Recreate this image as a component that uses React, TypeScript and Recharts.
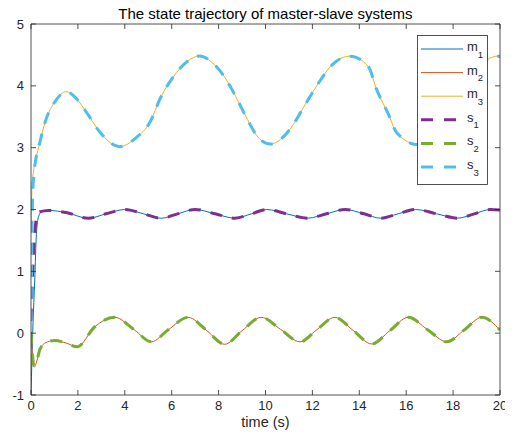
import React from "react";
import { LineChart, Line, XAxis, YAxis, Legend } from "recharts";

// ---- data ----
const xTicks = [0, 2, 4, 6, 8, 10, 12, 14, 16, 18, 20];
const yTicks = [-1, 0, 1, 2, 3, 4, 5];

const m1T = [0, 0.08, 0.16, 0.23, 0.32, 0.44, 0.75, 1.5, 2.44, 3.2, 4.0, 4.8, 5.55, 6.25, 7.0, 7.85, 8.7, 9.4, 10.05, 10.9, 11.8, 12.6, 13.4, 14.2, 14.9, 15.65, 16.4, 17.3, 18.2, 18.9, 19.6, 20];
const m1V = [-1, 0.1, 0.86, 1.6, 1.88, 1.96, 1.985, 1.95, 1.858, 1.93, 2.0, 1.93, 1.858, 1.93, 2.0, 1.93, 1.86, 1.93, 2.0, 1.93, 1.86, 1.93, 2.0, 1.93, 1.86, 1.93, 2.0, 1.93, 1.86, 1.93, 2.0, 1.99];

const s1T = [0, 0.05, 0.1, 0.16, 0.24, 0.35, 0.75, 1.5, 2.44, 3.2, 4.0, 4.8, 5.55, 6.25, 7.0, 7.85, 8.7, 9.4, 10.05, 10.9, 11.8, 12.6, 13.4, 14.2, 14.9, 15.65, 16.4, 17.3, 18.2, 18.9, 19.6, 20];
const s1V = [0.2, 0.75, 1.2, 1.6, 1.88, 1.96, 1.985, 1.95, 1.858, 1.93, 2.0, 1.93, 1.858, 1.93, 2.0, 1.93, 1.86, 1.93, 2.0, 1.93, 1.86, 1.93, 2.0, 1.93, 1.86, 1.93, 2.0, 1.93, 1.86, 1.93, 2.0, 1.99];

const m2T = [0, 0.06, 0.13, 0.25, 0.37, 0.6, 1.0, 1.5, 1.97, 2.71, 3.57, 4.42, 5.13, 5.84, 6.7, 7.5, 8.26, 9.0, 9.82, 10.65, 11.47, 12.2, 12.96, 13.75, 14.53, 15.3, 16.09, 16.9, 17.73, 18.5, 19.22, 20];
const m2V = [0, -0.35, -0.55, -0.45, -0.27, -0.16, -0.12, -0.16, -0.22, 0.1, 0.256, 0.05, -0.14, 0.05, 0.256, 0.04, -0.18, 0.04, 0.256, 0.06, -0.14, 0.06, 0.256, 0.04, -0.175, 0.04, 0.256, 0.06, -0.14, 0.06, 0.256, 0.05];

const s2T = [0, 0.06, 0.13, 0.25, 0.37, 0.6, 1.0, 1.5, 1.97, 2.71, 3.57, 4.42, 5.13, 5.84, 6.7, 7.5, 8.26, 9.0, 9.82, 10.65, 11.47, 12.2, 12.96, 13.75, 14.53, 15.3, 16.09, 16.9, 17.73, 18.5, 19.22, 20];
const s2V = [0.02, -0.33, -0.53, -0.45, -0.27, -0.16, -0.12, -0.16, -0.22, 0.1, 0.256, 0.05, -0.14, 0.05, 0.256, 0.04, -0.18, 0.04, 0.256, 0.06, -0.14, 0.06, 0.256, 0.04, -0.175, 0.04, 0.256, 0.06, -0.14, 0.06, 0.256, 0.05];

const m3T = [0, 0.04, 0.1, 0.2, 0.38, 0.6, 1.07, 1.5, 1.92, 2.39, 2.94, 3.78, 4.48, 5.07, 5.54, 6.06, 6.65, 7.2, 7.68, 8.26, 8.74, 9.17, 9.68, 10.2, 11.09, 11.68, 12.2, 12.84, 13.6, 14.37, 14.75, 15.22, 15.6, 16.5, 17.4, 18.1, 18.7, 19.3, 19.9, 20];
const m3V = [1.7, 2.35, 2.6, 2.8, 3.09, 3.41, 3.77, 3.905, 3.8, 3.56, 3.25, 3.016, 3.16, 3.41, 3.82, 4.14, 4.39, 4.483, 4.39, 4.14, 3.82, 3.5, 3.17, 3.06, 3.32, 3.69, 4.01, 4.34, 4.48, 4.32, 3.93, 3.56, 3.24, 3.05, 3.28, 3.7, 4.1, 4.38, 4.48, 4.475];

const s3T = [0, 0.02, 0.04, 0.07, 0.12, 0.2, 0.38, 0.6, 1.07, 1.5, 1.92, 2.39, 2.94, 3.78, 4.48, 5.07, 5.54, 6.06, 6.65, 7.2, 7.68, 8.26, 8.74, 9.17, 9.68, 10.2, 11.09, 11.68, 12.2, 12.84, 13.6, 14.37, 14.75, 15.22, 15.6, 16.5, 17.4, 18.1, 18.7, 19.3, 19.9, 20];
const s3V = [0.2, 0.9, 1.6, 2.2, 2.55, 2.8, 3.09, 3.41, 3.77, 3.905, 3.8, 3.56, 3.25, 3.016, 3.16, 3.41, 3.82, 4.14, 4.39, 4.483, 4.39, 4.14, 3.82, 3.5, 3.17, 3.06, 3.32, 3.69, 4.01, 4.34, 4.48, 4.32, 3.93, 3.56, 3.24, 3.05, 3.28, 3.7, 4.1, 4.38, 4.48, 4.475];

const toData = (ts: number[], vs: number[]) => ts.map((t, i) => ({ t, v: vs[i] }));

const FONT = "'Liberation Sans', Arial, Helvetica, sans-serif";
const AX = "#262626";

const series = [
  { name: "m", sub: "1", color: "#0072BD", dashed: false, data: toData(m1T, m1V) },
  { name: "m", sub: "2", color: "#D95319", dashed: false, data: toData(m2T, m2V) },
  { name: "m", sub: "3", color: "#EDB120", dashed: false, data: toData(m3T, m3V) },
  { name: "s", sub: "1", color: "#7E2F8E", dashed: true, data: toData(s1T, s1V) },
  { name: "s", sub: "2", color: "#77AC30", dashed: true, data: toData(s2T, s2V) },
  { name: "s", sub: "3", color: "#4DBEEE", dashed: true, data: toData(s3T, s3V) },
];

const LegendBox = () => {
  const w = 71;
  const h = 150;
  return (
    <svg width={w} height={h} style={{ display: "block", fontFamily: FONT }}>
      <rect x={0.5} y={0.5} width={w - 1} height={h - 1} fill="#fff" stroke={AX} strokeWidth={0.8} />
      {series.map((s, i) => {
        const y = 14 + i * 23.6;
        return (
          <g key={i}>
            <line
              x1={4}
              x2={46}
              y1={y}
              y2={y}
              stroke={s.color}
              strokeWidth={s.dashed ? 3 : 1}
              strokeDasharray={s.dashed ? "12 11" : undefined}
            />
            <text x={50} y={y + 2} fontSize={13} fill={AX}>
              {s.name}
              <tspan dy={6.5} fontSize={9.5}>{s.sub}</tspan>
            </text>
          </g>
        );
      })}
    </svg>
  );
};

export default function App() {
  return (
    <div style={{ fontFamily: FONT, width: 505, height: 433, position: "relative" }}>
      <div
        style={{
          position: "absolute",
          left: 0,
          width: 515,
          top: -3,
          textAlign: "center",
          fontSize: 15,
          lineHeight: "18px",
          color: "#000",
          whiteSpace: "nowrap",
          zIndex: 2,
        }}
      >
        The state trajectory of master-slave systems
      </div>
      <LineChart width={505} height={433} margin={{ top: 15, right: 12, bottom: 0, left: 0 }}>
        <XAxis
          xAxisId={0}
          dataKey="t"
          type="number"
          domain={[0, 20]}
          ticks={xTicks}
          allowDataOverflow
          height={46}
          tickSize={-5}
          tickMargin={11}
          axisLine={{ stroke: AX, strokeWidth: 0.8 }}
          tickLine={{ stroke: AX, strokeWidth: 0.8 }}
          tick={{ fill: AX, fontSize: 13 }}
          label={{ value: "time (s)", position: "insideBottom", offset: 14, fill: AX, fontSize: 14.5 }}
        />
        <XAxis
          xAxisId="top"
          orientation="top"
          dataKey="t"
          type="number"
          domain={[0, 20]}
          ticks={xTicks}
          allowDataOverflow
          height={1}
          tickSize={-5}
          axisLine={{ stroke: AX, strokeWidth: 0.8 }}
          tickLine={{ stroke: AX, strokeWidth: 0.8 }}
          tickFormatter={() => ""}
        />
        <YAxis
          yAxisId={0}
          type="number"
          domain={[-1, 5]}
          ticks={yTicks}
          allowDataOverflow
          width={23}
          tickSize={-5}
          tickMargin={12}
          axisLine={{ stroke: AX, strokeWidth: 0.8 }}
          tickLine={{ stroke: AX, strokeWidth: 0.8 }}
          tick={{ fill: AX, fontSize: 13 }}
        />
        <YAxis
          yAxisId="right"
          orientation="right"
          type="number"
          domain={[-1, 5]}
          ticks={yTicks}
          allowDataOverflow
          width={1}
          tickSize={-5}
          axisLine={{ stroke: AX, strokeWidth: 0.8 }}
          tickLine={{ stroke: AX, strokeWidth: 0.8 }}
          tickFormatter={() => ""}
        />
        {series.map((s, i) => (
          <Line
            key={i}
            xAxisId={0}
            yAxisId={0}
            data={s.data}
            dataKey="v"
            name={s.name + s.sub}
            type="monotone"
            stroke={s.color}
            strokeWidth={s.dashed ? 3 : 1}
            strokeDasharray={s.dashed ? "12 10" : undefined}
            dot={false}
            activeDot={false}
            isAnimationActive={false}
          />
        ))}
        <Legend
          layout="vertical"
          align="center"
          verticalAlign="middle"
          content={() => <LegendBox />}
          wrapperStyle={{ left: 409, top: 27, width: 71, height: 150 }}
        />
      </LineChart>
    </div>
  );
}
